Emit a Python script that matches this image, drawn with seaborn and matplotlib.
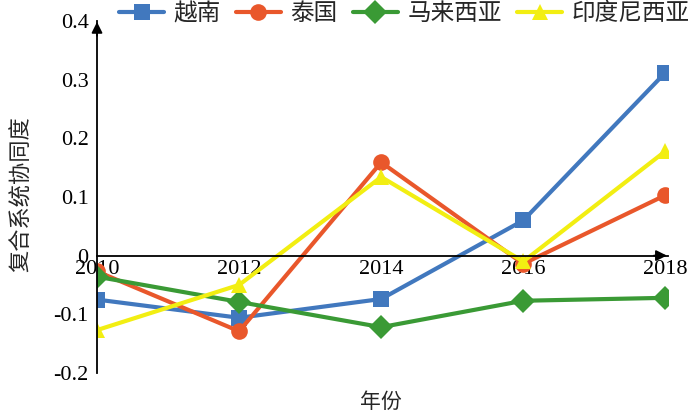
import numpy as np
import pandas as pd
import seaborn as sns
import matplotlib.pyplot as plt

years = [2010, 2012, 2014, 2016, 2018]
countries = ['越南', '泰国', '马来西亚', '印度尼西亚']
vietnam = [-0.075, -0.106, -0.074, 0.060, 0.312]
thailand = [-0.027, -0.129, 0.159, -0.014, 0.103]
malaysia = [-0.036, -0.079, -0.122, -0.077, -0.072]
indonesia = [-0.127, -0.050, 0.134, -0.010, 0.178]
colors = ['#4178BE', '#E9572B', '#3A9A35', '#F2EE12']
markers = ['s', 'o', 'D', '^']

rows = []
for name, vals in zip(countries, [vietnam, thailand, malaysia, indonesia]):
    for y, v in zip(years, vals):
        rows.append({'year': y, 'value': v, 'country': name})
df = pd.DataFrame(rows)

sns.set_style('white')
plt.rcParams['font.family'] = ['Noto Sans CJK SC', 'DejaVu Sans']

fig = plt.figure(figsize=(7, 4.19), dpi=100)
ax = fig.add_axes([0.1386, 0.110, 0.816, 0.840])

sns.lineplot(data=df, x='year', y='value', hue='country', style='country',
             hue_order=countries, style_order=countries,
             palette=dict(zip(countries, colors)),
             markers=dict(zip(countries, markers)), dashes=False,
             linewidth=3, markersize=12, markeredgewidth=0, ax=ax)

ax.set_xlim(2010, 2018.04)
ax.set_ylim(-0.2, 0.4)
ax.set_xticks(years)
ax.set_yticks([-0.2, -0.1, 0, 0.1, 0.2, 0.3, 0.4])
ax.set_yticklabels(['-0.2', '-0.1', '0', '0.1', '0.2', '0.3', '0.4'])

for s in ['top', 'right']:
    ax.spines[s].set_visible(False)
ax.spines['bottom'].set_position(('data', 0))
ax.spines['left'].set_position(('data', 2010))
for s in ['bottom', 'left']:
    ax.spines[s].set_color('black')
    ax.spines[s].set_linewidth(1.3)
ax.tick_params(axis='both', direction='in', length=5, width=1.3, colors='black',
               labelsize=16)
ax.tick_params(axis='x', pad=3)
ax.tick_params(axis='y', pad=6)
for lab in ax.get_xticklabels() + ax.get_yticklabels():
    lab.set_family('Liberation Serif')

ax.annotate('', xy=(2018.06, 0), xytext=(2017.8, 0),
            arrowprops=dict(arrowstyle='-|>', color='black', lw=1.3, mutation_scale=16),
            annotation_clip=False)
ax.annotate('', xy=(2010, 0.403), xytext=(2010, 0.37),
            arrowprops=dict(arrowstyle='-|>', color='black', lw=1.3, mutation_scale=16),
            annotation_clip=False)

ax.set_xlabel('年份', fontsize=15)
ax.set_ylabel('复合系统协同度', fontsize=16)
ax.xaxis.set_label_coords(0.497, -0.052)
ax.yaxis.set_label_coords(-0.112, 0.508)

leg = ax.legend(loc='center', bbox_to_anchor=(0.538, 1.02), ncol=4,
                frameon=False, fontsize=17, handlelength=1.9, columnspacing=0.65,
                handletextpad=0.4, borderpad=0.1)

fig.savefig('out.png', dpi=100)
